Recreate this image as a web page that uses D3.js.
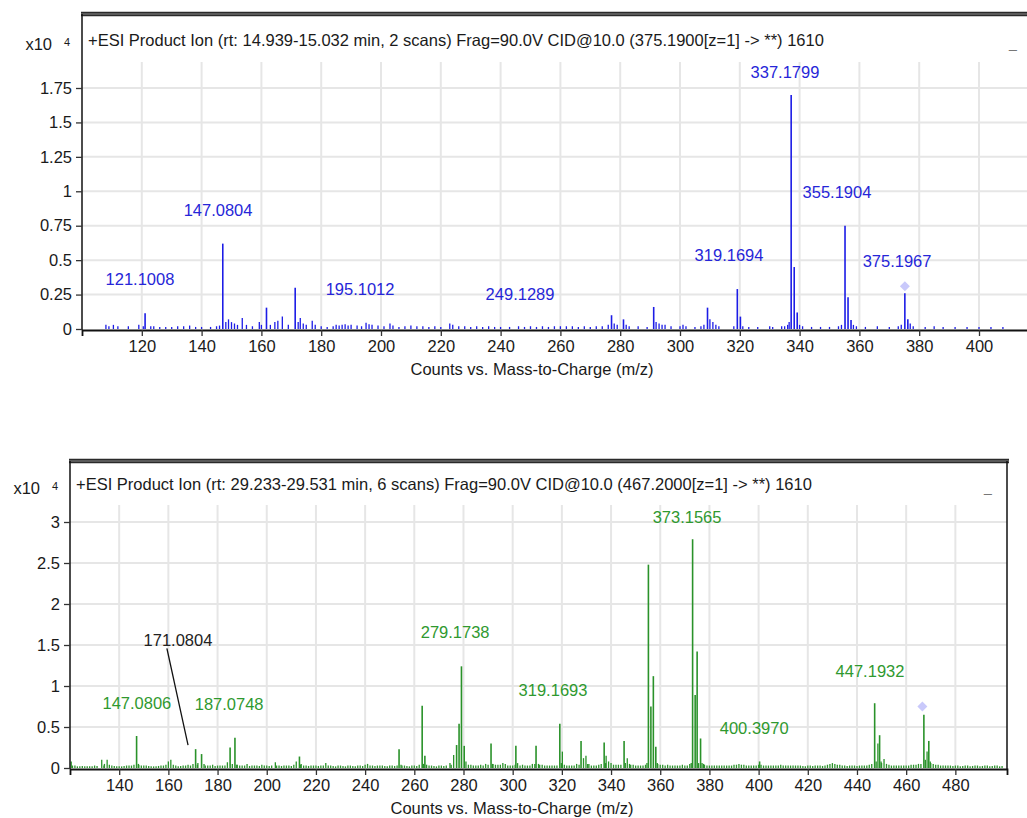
<!DOCTYPE html>
<html>
<head>
<meta charset="utf-8">
<script src="https://cdn.jsdelivr.net/npm/d3@7"></script>
<style>
  html, body { margin: 0; padding: 0; background: #fff; }
  svg { display: block; font-family: "Liberation Sans", Arial, sans-serif; }
</style>
</head>
<body>
<svg id="chart" width="1027" height="818"></svg>
<script>
// ---------------- DATA ----------------
const topTitle = "+ESI Product Ion (rt: 14.939-15.032 min, 2 scans) Frag=90.0V CID@10.0 (375.1900[z=1] -> **) 1610";
const bottomTitle = "+ESI Product Ion (rt: 29.233-29.531 min, 6 scans) Frag=90.0V CID@10.0 (467.2000[z=1] -> **) 1610";
const xAxisTitle = "Counts vs. Mass-to-Charge (m/z)";

const topXTicks = [120,140,160,180,200,220,240,260,280,300,320,340,360,380,400];
const topYTicks = [0,0.25,0.5,0.75,1,1.25,1.5,1.75];
const bottomXTicks = [140,160,180,200,220,240,260,280,300,320,340,360,380,400,420,440,460,480];
const bottomYTicks = [0,0.5,1,1.5,2,2.5,3];

// main peaks [m/z, counts x10^4]
const topPeaks = [
  [121.1,0.115],[147.08,0.62],[161.7,0.155],[171.3,0.30],[277.1,0.10],[281.1,0.07],
  [291.2,0.16],[309.2,0.155],[319.17,0.29],[320.2,0.09],[337.18,1.70],[338.2,0.45],[339.2,0.12],
  [355.19,0.75],[356.2,0.23],[357.2,0.065],[375.2,0.26],[376.2,0.07]
];
const topNoise = [
  [108,0.03],[109,0.02],[110.5,0.03],[112,0.02],[115.5,0.02],[119,0.03],[120.5,0.02],[123,0.02],
  [124,0.02],[126,0.015],[128,0.015],[130,0.015],[132,0.02],[134,0.02],[136,0.025],[138,0.015],
  [140,0.015],[143,0.015],[145,0.02],[146,0.025],[148.1,0.05],[149,0.07],[150,0.05],[151,0.04],
  [152,0.03],[153.6,0.08],[155,0.03],[157,0.02],[159.3,0.05],[160,0.03],[163,0.03],[164.5,0.05],
  [165.5,0.06],[167,0.09],[169,0.03],[172.3,0.05],[173,0.08],[174,0.04],[175,0.03],[177,0.06],
  [178,0.03],[180,0.02],[182,0.015],[184,0.02],[185,0.03],[186,0.025],[187,0.03],[188,0.035],
  [189,0.025],[190,0.03],[192,0.025],[193.5,0.02],[195,0.045],[196,0.035],[197,0.03],[199,0.025],
  [201,0.02],[203,0.04],[204,0.025],[206,0.015],[208,0.02],[210,0.025],[212,0.02],[214,0.02],
  [216,0.015],[218,0.02],[220,0.015],[223,0.04],[224,0.03],[226,0.02],[228,0.02],[230,0.015],
  [232,0.02],[234,0.015],[236,0.02],[238,0.015],[240,0.015],[243,0.015],[246,0.02],[248,0.015],
  [250,0.02],[252,0.015],[254,0.02],[256,0.015],[258,0.02],[260,0.02],[262,0.02],[264,0.02],
  [266,0.015],[268,0.02],[270,0.015],[272,0.02],[274,0.02],[276,0.03],[278,0.04],[279,0.03],
  [282,0.03],[283,0.02],[286,0.02],[289,0.015],[292,0.05],[293,0.04],[294,0.03],[295,0.03],
  [297,0.02],[300,0.02],[301,0.03],[302,0.02],[305,0.015],[307,0.02],[308,0.03],[310,0.07],
  [311,0.05],[312,0.03],[313,0.02],[318,0.02],[321,0.02],[323,0.015],[326,0.015],[330,0.02],
  [331,0.015],[334,0.02],[335,0.02],[336,0.03],[336.5,0.05],[340,0.03],[341,0.02],[344,0.015],
  [347,0.015],[350,0.015],[353,0.02],[354,0.03],[358,0.03],[359,0.02],[362,0.015],[366,0.02],
  [370,0.015],[373,0.02],[374,0.03],[377,0.04],[378,0.02],[382,0.015],[385,0.02],[388,0.015],
  [392,0.015],[396,0.015],[400,0.015],[404,0.015],[408,0.015]
];
const bottomPeaks = [
  [147.08,0.39],[171.08,0.23],[173.5,0.17],[185.1,0.25],[187.07,0.37],[213.3,0.14],[253.8,0.23],
  [263.2,0.76],[264.3,0.15],[277.2,0.28],[278.2,0.54],[279.17,1.24],[280.3,0.27],[291.2,0.30],
  [301.3,0.27],[309.5,0.27],[319.17,0.54],[327.8,0.33],[337.2,0.31],[345.3,0.33],[355.19,2.48],
  [356.2,0.75],[357.2,1.12],[358.2,0.26],[373.16,2.79],[374.2,0.89],[375.0,1.42],[376.4,0.36],
  [400.4,0.08],[447.19,0.79],[449.2,0.40],[467.2,0.65],[469.2,0.33]
];
const bottomNoise = [
  [120.5,0.08],[122,0.03],[124,0.02],[126,0.02],[128,0.02],[130,0.03],[132.9,0.1],[134,0.05],
  [135.1,0.1],[136,0.04],[137,0.03],[139,0.02],[141,0.02],[143,0.03],[145,0.03],[146,0.04],
  [148,0.04],[149,0.03],[151,0.03],[153,0.02],[155,0.02],[157,0.03],[159,0.04],[160,0.08],
  [161,0.1],[162,0.04],[164,0.02],[166,0.03],[168,0.04],[169,0.03],[170,0.05],[172,0.06],
  [174.5,0.05],[176,0.03],[178,0.04],[180,0.03],[182,0.03],[184,0.07],[186,0.05],[188,0.04],
  [190,0.03],[192,0.05],[194,0.03],[196,0.03],[198,0.04],[200,0.03],[202,0.03],[203.5,0.07],
  [205,0.03],[207,0.03],[209,0.03],[211,0.04],[212,0.08],[214,0.05],[216,0.03],[218,0.03],
  [220,0.03],[222,0.03],[224,0.06],[226,0.03],[228,0.02],[230,0.03],[232,0.02],[234,0.03],
  [236,0.02],[238,0.03],[240,0.04],[241,0.05],[243,0.03],[245,0.03],[247,0.03],[249,0.02],
  [251,0.03],[253,0.03],[256,0.03],[258,0.02],[260,0.03],[262,0.04],[265,0.04],[267,0.03],
  [269,0.02],[271,0.03],[273,0.03],[274.5,0.06],[276,0.16],[281,0.08],[283,0.04],[285,0.03],
  [287,0.04],[289,0.05],[290,0.04],[292,0.05],[294,0.04],[296,0.06],[297,0.05],[299,0.03],
  [302,0.06],[304,0.04],[305,0.03],[307,0.03],[308,0.05],[310.5,0.05],[312,0.04],[314,0.03],
  [316,0.03],[318,0.03],[320.2,0.2],[321,0.04],[323,0.03],[325,0.03],[326,0.05],[328.8,0.12],
  [329.8,0.15],[331,0.05],[333,0.03],[335,0.04],[336,0.05],[338,0.15],[339,0.08],[340,0.06],
  [342,0.04],[343,0.04],[346.6,0.12],[347.5,0.05],[349,0.04],[351,0.03],[353,0.03],[354,0.04],
  [359,0.05],[361,0.04],[363,0.04],[365,0.03],[367,0.03],[369,0.04],[371,0.03],[372,0.05],
  [377,0.06],[378,0.04],[380,0.03],[382,0.03],[384,0.03],[386,0.03],[388,0.03],[390,0.04],
  [392,0.05],[393,0.04],[395,0.03],[397,0.03],[399,0.03],[401,0.04],[403,0.03],[405,0.03],
  [407,0.03],[409,0.04],[411,0.03],[413,0.03],[415,0.03],[417,0.03],[419,0.02],[421,0.03],
  [423,0.03],[425,0.03],[427,0.03],[429,0.05],[430,0.06],[431,0.05],[433,0.04],[435,0.03],
  [437,0.03],[439,0.03],[441,0.03],[443,0.03],[445,0.04],[446,0.05],[448.5,0.30],[450,0.06],
  [451,0.11],[452,0.05],[454,0.03],[456,0.03],[458,0.03],[460,0.03],[462,0.04],[464,0.04],
  [465,0.05],[466,0.05],[468.5,0.2],[470,0.06],[471,0.05],[472,0.04],[474,0.03],[476,0.03],
  [478,0.03],[480,0.03],[482,0.02],[484,0.03],[486,0.02],[488,0.03],[490,0.02],[492,0.03],
  [494,0.02],[496,0.03],[498,0.02]
];
// low-level baseline chatter between the listed noise lines (bottom spectrum)
const bottomBaseline = [
  [121,0.03],[123,0.02],[125,0.025],[127,0.02],[129,0.02],[131,0.025],[133.8,0.03],[138,0.025],
  [140,0.02],[142,0.025],[144,0.03],[147.8,0.05],[150,0.03],[152,0.025],[154,0.02],[156,0.025],
  [158,0.03],[163,0.03],[165,0.025],[167,0.03],[171.8,0.04],[175,0.03],[177,0.03],[179,0.025],
  [181,0.03],[183,0.03],[187.8,0.04],[189,0.03],[191,0.03],[193,0.025],[195,0.03],[197,0.025],
  [199,0.03],[201,0.025],[204,0.03],[206,0.025],[208,0.03],[210,0.025],[213.8,0.04],[215,0.03],
  [217,0.025],[219,0.03],[221,0.025],[223,0.03],[225,0.03],[227,0.025],[229,0.03],[231,0.025],
  [233,0.03],[235,0.025],[237,0.03],[239,0.025],[242,0.03],[244,0.025],[246,0.03],[248,0.025],
  [250,0.03],[252,0.025],[254.6,0.04],[255,0.03],[257,0.025],[259,0.03],[261,0.025],[263.8,0.05],
  [266,0.03],[268,0.025],[270,0.03],[272,0.025],[275,0.04],[282,0.04],[284,0.03],[286,0.03],
  [288,0.03],[291.8,0.05],[293,0.04],[295,0.04],[298,0.03],[300,0.03],[301,0.04],[303,0.03],
  [306,0.03],[309,0.05],[311,0.04],[313,0.03],[315,0.03],[317,0.03],[319.8,0.06],[322,0.03],
  [324,0.03],[327,0.04],[330.5,0.05],[332,0.03],[334,0.03],[337.8,0.06],[341,0.04],[344,0.04],
  [345.8,0.06],[348,0.04],[350,0.03],[352,0.03],[354.6,0.06],[358.8,0.06],[360,0.04],[362,0.03],
  [364,0.03],[366,0.03],[368,0.03],[370,0.03],[372.6,0.06],[375.6,0.06],[377.6,0.05],[379,0.03],
  [381,0.03],[383,0.03],[385,0.03],[387,0.03],[389,0.03],[391,0.04],[394,0.04],[396,0.03],
  [398,0.03],[400,0.04],[402,0.03],[404,0.03],[406,0.03],[408,0.03],[410,0.03],[412,0.03],
  [414,0.03],[416,0.03],[418,0.025],[420,0.03],[422,0.025],[424,0.03],[426,0.025],[428,0.04],
  [432,0.04],[434,0.03],[436,0.025],[438,0.03],[440,0.025],[442,0.03],[444,0.03],[447.8,0.08],
  [449.8,0.08],[453,0.04],[455,0.03],[457,0.03],[459,0.03],[461,0.03],[463,0.04],[467.8,0.1],
  [469.8,0.08],[473,0.04],[475,0.03],[477,0.03],[479,0.025],[481,0.03],[483,0.025],[485,0.03],
  [487,0.025],[489,0.03],[491,0.025],[493,0.03],[495,0.025],[497,0.03],[499,0.025]
];

// peak annotations [text, m/z (centre), counts level]
const topLabels = [
  ["337.1799",335.1,1.866],["147.0804",145.5,0.864],["355.1904",352.5,0.995],
  ["319.1694",316.4,0.537],["375.1967",372.6,0.494],["121.1008",119.4,0.363],
  ["195.1012",193.0,0.290],["249.1289",246.5,0.254]
];
const bottomLabels = [
  ["373.1565",370.9,3.06],["279.1738",276.6,1.66],["319.1693",316.4,0.95],
  ["447.1932",445.3,1.18],["147.0806",147.2,0.79],["187.0748",184.7,0.78],
  ["400.3970",398.2,0.49]
];
const bottomCallout = {text:"171.0804", mz:163.9, y:1.56, from:[159.4,1.46], to:[168.0,0.28]};
const topPrecursor = [375.2, 0.31];
const bottomPrecursor = [466.6, 0.75];

// ---------------- DRAW ----------------
const svg = d3.select("#chart");
const FONT = 16.5;

function panel(cfg) {
  const g = svg.append("g");
  const x = d3.scaleLinear().domain(cfg.xDomain).range([cfg.left, cfg.right]);
  const y = d3.scaleLinear().domain([0, cfg.yRefVal]).range([cfg.y0, cfg.yRefPx]);
  const clipId = "clip" + cfg.id;
  svg.append("defs").append("clipPath").attr("id", clipId)
    .append("rect").attr("x", cfg.left).attr("y", cfg.frameTop)
    .attr("width", cfg.right - cfg.left).attr("height", cfg.y0 - cfg.frameTop + 1);

  // grid
  const grid = g.append("g").attr("clip-path", `url(#${clipId})`);
  grid.selectAll("line.v").data(cfg.xTicks).join("line")
    .attr("x1", d => x(d)).attr("x2", d => x(d))
    .attr("y1", cfg.gridTop).attr("y2", cfg.y0)
    .attr("stroke", "#e6e6e6").attr("stroke-width", 2);
  grid.selectAll("line.h").data(cfg.yTicks.filter(d => d > 0)).join("line")
    .attr("x1", cfg.left).attr("x2", cfg.right)
    .attr("y1", d => y(d)).attr("y2", d => y(d))
    .attr("stroke", "#e6e6e6").attr("stroke-width", 2);

  // peaks
  const pk = g.append("g").attr("clip-path", `url(#${clipId})`);
  pk.selectAll("line.b").data(cfg.baseline || []).join("line")
    .attr("x1", d => x(d[0])).attr("x2", d => x(d[0]))
    .attr("y1", y(0)).attr("y2", d => y(d[1]))
    .attr("stroke", cfg.color).attr("stroke-width", 1.3);
  pk.selectAll("line.n").data(cfg.noise).join("line")
    .attr("x1", d => x(d[0])).attr("x2", d => x(d[0]))
    .attr("y1", y(0)).attr("y2", d => y(d[1]))
    .attr("stroke", cfg.color).attr("stroke-width", 1.3);
  pk.selectAll("line.p").data(cfg.peaks).join("line")
    .attr("x1", d => x(d[0])).attr("x2", d => x(d[0]))
    .attr("y1", y(0)).attr("y2", d => y(d[1]))
    .attr("stroke", cfg.color).attr("stroke-width", 1.6);

  // precursor marker
  const s = 5;
  g.append("path")
    .attr("d", `M${x(cfg.precursor[0])},${y(cfg.precursor[1]) - s} l${s},${s} l${-s},${s} l${-s},${-s} Z`)
    .attr("fill", "#c9c9fb");

  // labels
  g.selectAll("text.lab").data(cfg.labels).join("text")
    .attr("x", d => x(d[1])).attr("y", d => y(d[2]))
    .attr("text-anchor", "middle").attr("dominant-baseline", "central")
    .attr("font-size", 16.5).attr("fill", cfg.labelColor).text(d => d[0]);

  if (cfg.callout) {
    const c = cfg.callout;
    g.append("line")
      .attr("x1", x(c.from[0])).attr("y1", y(c.from[1]))
      .attr("x2", x(c.to[0])).attr("y2", y(c.to[1]))
      .attr("stroke", "#111").attr("stroke-width", 1.3);
    g.append("text").attr("x", x(c.mz)).attr("y", y(c.y))
      .attr("text-anchor", "middle").attr("dominant-baseline", "central")
      .attr("font-size", 16.5).attr("fill", "#222").text(c.text);
  }

  // frame
  g.append("line").attr("x1", cfg.left - 1).attr("x2", cfg.frameRight + 2)
    .attr("y1", cfg.frameTop).attr("y2", cfg.frameTop)
    .attr("stroke", "#2a2a2a").attr("stroke-width", 4.5);
  g.append("line").attr("x1", cfg.left - 1).attr("x2", cfg.frameRight + 2)
    .attr("y1", cfg.frameTop).attr("y2", cfg.frameTop)
    .attr("stroke", "#8a8a8a").attr("stroke-width", 1);
  g.append("line").attr("x1", cfg.left).attr("x2", cfg.left)
    .attr("y1", cfg.frameTop).attr("y2", cfg.y0 + 1)
    .attr("stroke", "#111").attr("stroke-width", 1.5);
  if (cfg.rightBorder) {
    g.append("line").attr("x1", cfg.frameRight).attr("x2", cfg.frameRight)
      .attr("y1", cfg.frameTop).attr("y2", cfg.y0 + 1)
      .attr("stroke", "#111").attr("stroke-width", 1.5);
  }

  // axes
  const ax = g.append("g").attr("transform", `translate(0,${cfg.y0 + 1})`)
    .call(d3.axisBottom(x).tickValues(cfg.xTicks).tickSize(6).tickSizeOuter(6).tickPadding(4).tickFormat(d3.format("d")));
  ax.select(".domain").attr("stroke", "#111").attr("stroke-width", 1.8);
  ax.selectAll(".tick line").attr("stroke", "#333").attr("stroke-width", 1.3);
  ax.selectAll("text").attr("font-size", FONT).attr("fill", "#1a1a1a")
    .attr("font-family", "\"Liberation Sans\", Arial, sans-serif");

  const ay = g.append("g").attr("transform", `translate(${cfg.left},0)`)
    .call(d3.axisLeft(y).tickValues(cfg.yTicks).tickSize(6).tickSizeOuter(0).tickPadding(4).tickFormat(d3.format("")));
  ay.select(".domain").remove();
  ay.selectAll(".tick line").attr("stroke", "#333").attr("stroke-width", 1.3);
  ay.selectAll("text").attr("font-size", FONT).attr("fill", "#1a1a1a")
    .attr("font-family", "\"Liberation Sans\", Arial, sans-serif");

  // titles
  g.append("text").attr("x", cfg.left + 6).attr("y", cfg.titleY)
    .attr("font-size", 16.5).attr("fill", "#1a1a1a").text(cfg.title);
  g.append("text").attr("x", cfg.left - 30).attr("y", cfg.titleY + 4)
    .attr("text-anchor", "end").attr("font-size", FONT).attr("fill", "#1a1a1a").text("x10");
  g.append("text").attr("x", cfg.left - 12).attr("y", cfg.titleY)
    .attr("text-anchor", "end").attr("font-size", 11).attr("fill", "#1a1a1a").text("4");
  g.append("text").attr("x", cfg.minusX).attr("y", cfg.titleY + 2)
    .attr("text-anchor", "middle").attr("font-size", 14).attr("fill", "#777").text("_");
  g.append("text").attr("x", cfg.axisTitleX).attr("y", cfg.y0 + 46)
    .attr("text-anchor", "middle").attr("font-size", FONT).attr("fill", "#1a1a1a").text(xAxisTitle);
}

panel({
  id: "top", left: 82, right: 1040, frameRight: 1030, xDomain: [100, 420.4],
  y0: 329, yRefVal: 1.75, yRefPx: 88, frameTop: 14, gridTop: 62, titleY: 46,
  xTicks: topXTicks, yTicks: topYTicks, peaks: topPeaks, noise: topNoise,
  labels: topLabels, precursor: topPrecursor, color: "#1c1ce6", labelColor: "#2626d8",
  title: topTitle, minusX: 1013, axisTitleX: 532, rightBorder: false
});

panel({
  id: "bottom", left: 70, right: 1007, frameRight: 1007, xDomain: [120, 501],
  y0: 768, yRefVal: 3, yRefPx: 522, frameTop: 461, gridTop: 505, titleY: 490,
  xTicks: bottomXTicks, yTicks: bottomYTicks, peaks: bottomPeaks, noise: bottomNoise,
  baseline: bottomBaseline,
  labels: bottomLabels, callout: bottomCallout, precursor: bottomPrecursor,
  color: "#2a922a", labelColor: "#2f992f",
  title: bottomTitle, minusX: 988, axisTitleX: 512, rightBorder: true
});
</script>
</body>
</html>
